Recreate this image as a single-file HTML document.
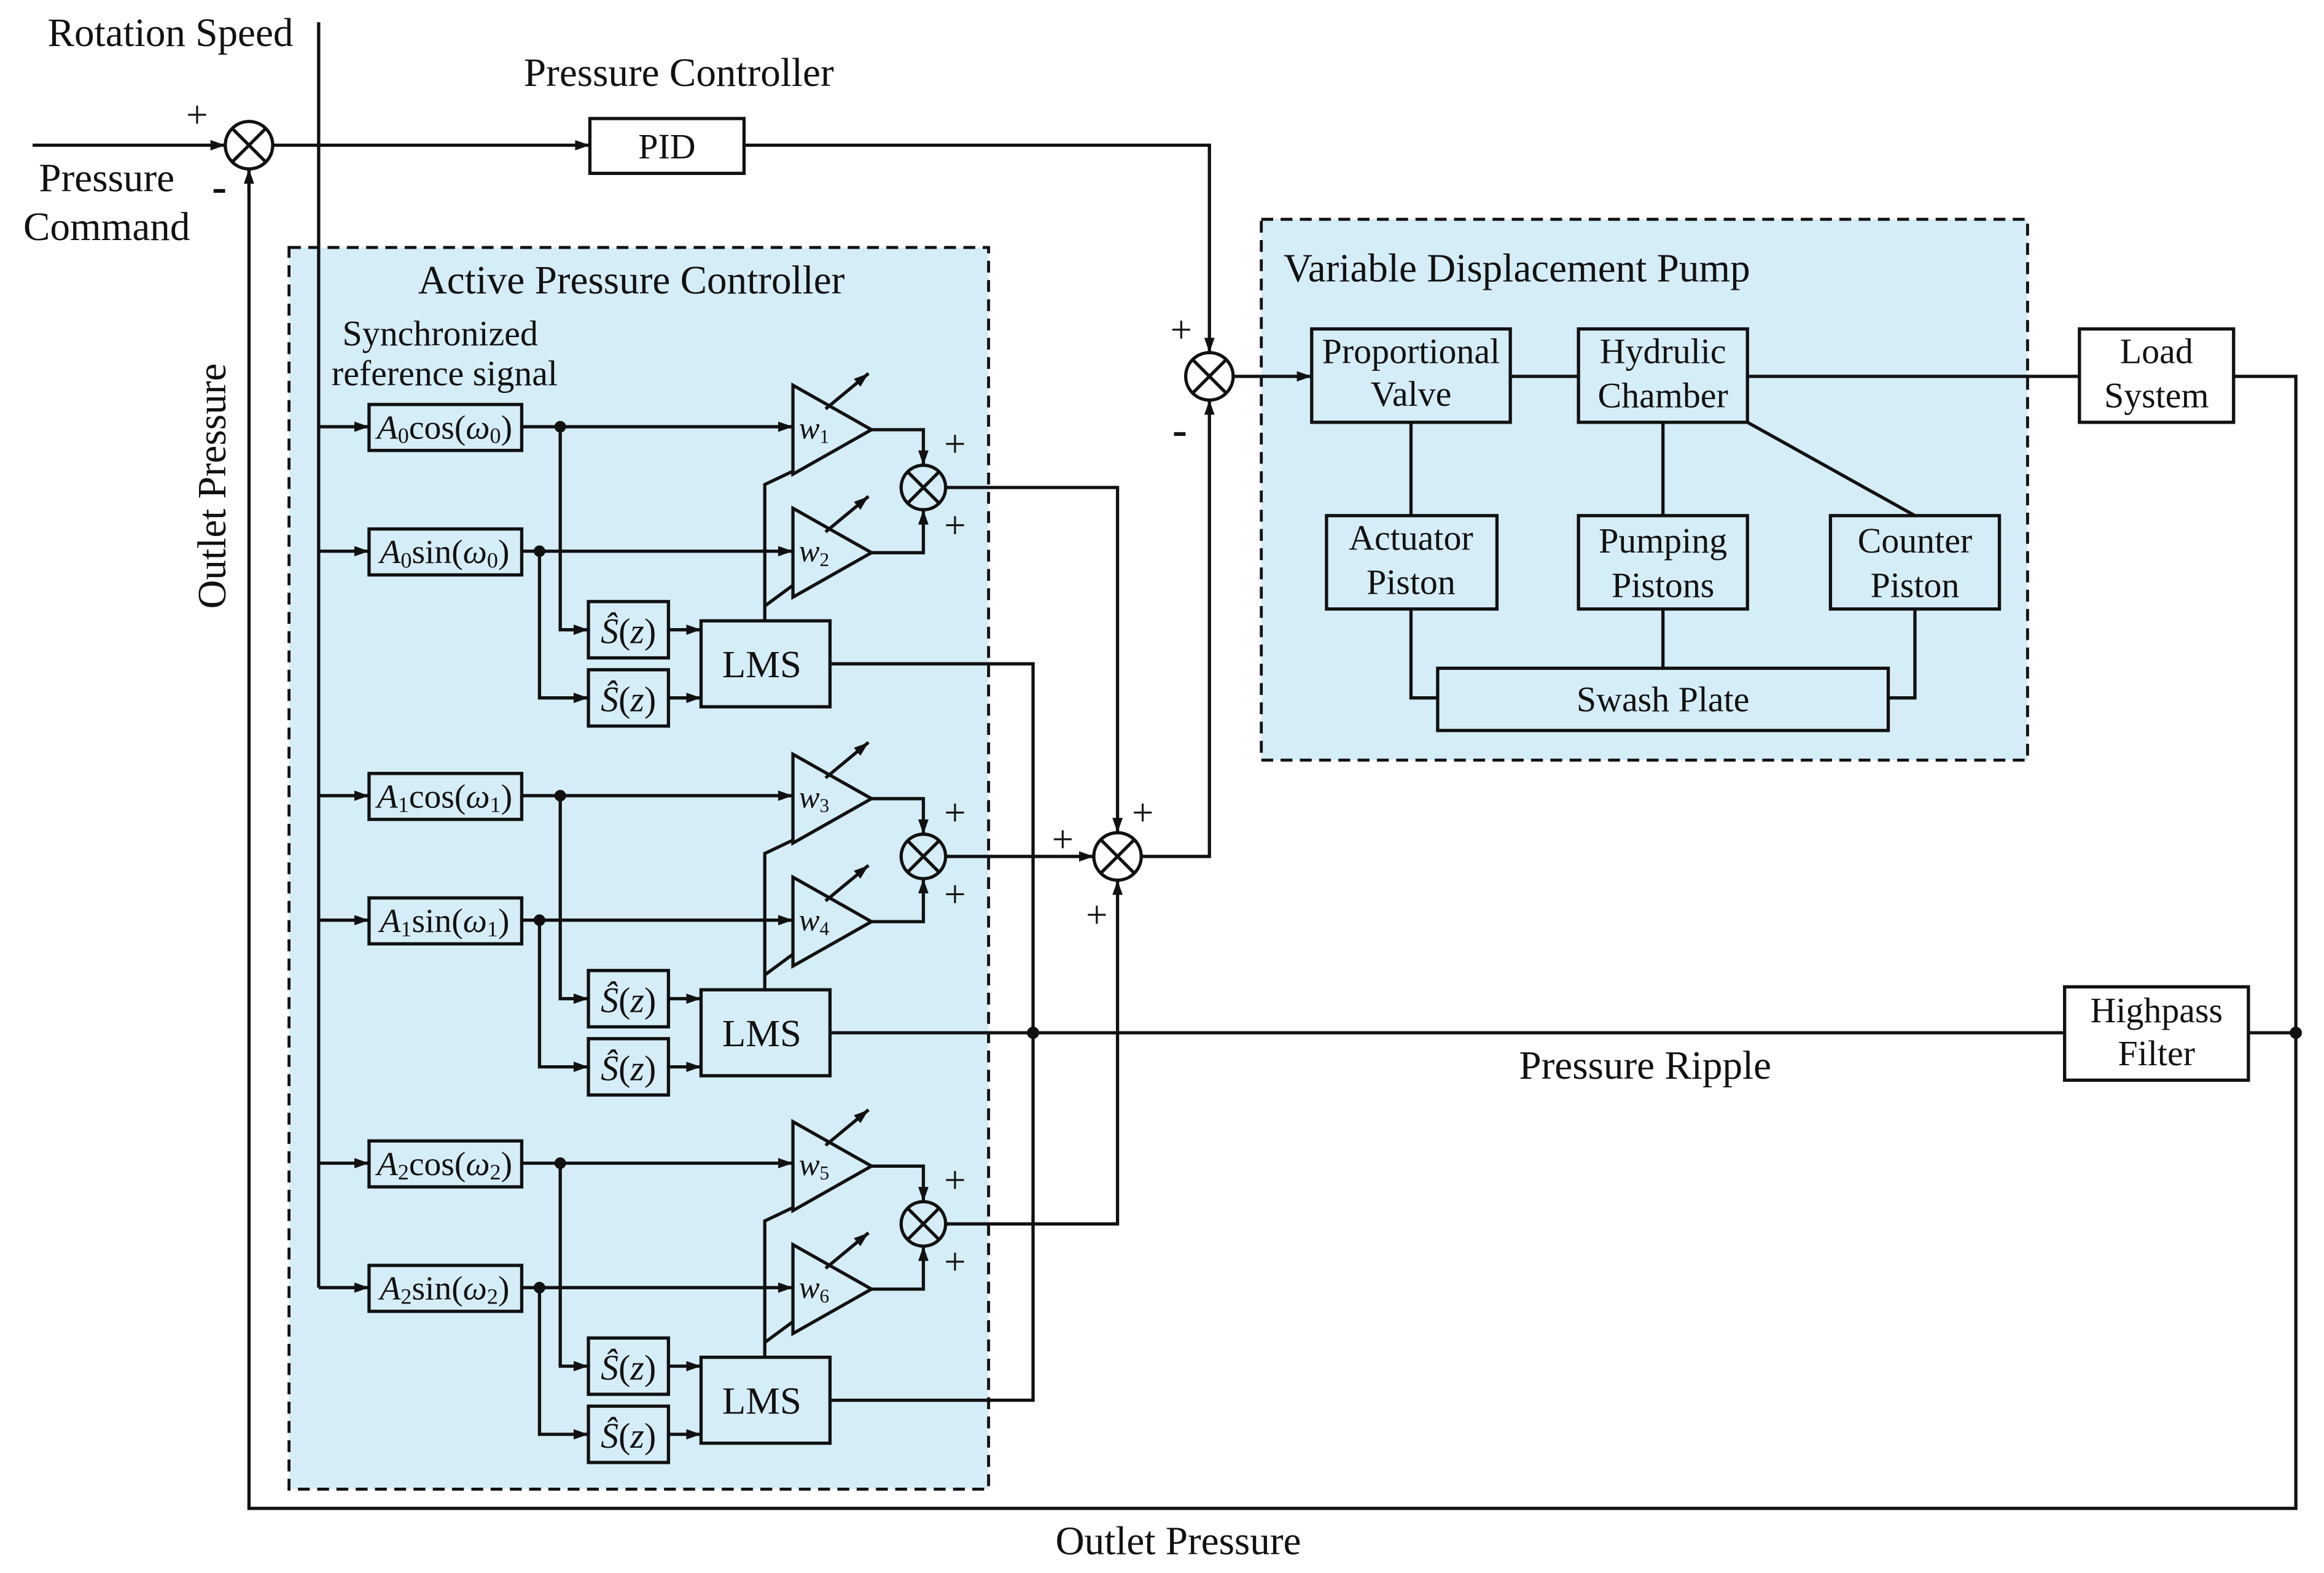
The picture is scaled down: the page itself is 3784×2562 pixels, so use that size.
<!DOCTYPE html>
<html><head><meta charset="utf-8"><style>
html,body{margin:0;padding:0;background:#fff;}
svg{display:block;}
text{font-family:"Liberation Serif",serif;fill:#111;}
</style></head><body>
<svg width="3784" height="2562" viewBox="0 0 1568 1061.6" preserveAspectRatio="none" xmlns="http://www.w3.org/2000/svg">
<defs>
<marker id="a" markerUnits="userSpaceOnUse" markerWidth="11" markerHeight="8" refX="10" refY="4" orient="auto"><path d="M0,0.5 L10,4 L0,7.5 z" fill="#111"/></marker>
<g id="grp" fill="none" stroke="#111" stroke-width="2.2">
<line x1="215" y1="288" x2="249" y2="288" marker-end="url(#a)"/>
<line x1="215" y1="372" x2="249" y2="372" marker-end="url(#a)"/>
<rect x="249" y="273" width="103" height="31"/>
<rect x="249" y="357" width="103" height="31"/>
<line x1="352" y1="288" x2="535" y2="288" marker-end="url(#a)"/>
<line x1="352" y1="372" x2="535" y2="372" marker-end="url(#a)"/>
<circle cx="378" cy="288" r="2.8" fill="#111"/>
<circle cx="364" cy="372" r="2.8" fill="#111"/>
<polyline points="378,288 378,425 397,425" marker-end="url(#a)"/>
<polyline points="364,372 364,471 397,471" marker-end="url(#a)"/>
<rect x="397" y="406" width="54" height="38"/>
<rect x="397" y="452" width="54" height="38"/>
<line x1="451" y1="425" x2="473" y2="425" marker-end="url(#a)"/>
<line x1="451" y1="471" x2="473" y2="471" marker-end="url(#a)"/>
<rect x="473" y="419" width="87" height="58"/>
<polyline points="535,395 516,409 516,419"/>
<polyline points="535,318 516,327 516,409"/>
<polygon points="535,260 535,320 588,290"/>
<polygon points="535,343 535,403 588,373"/>
<line x1="557" y1="276" x2="586" y2="252" marker-end="url(#a)"/>
<line x1="557" y1="359" x2="586" y2="335" marker-end="url(#a)"/>
<polyline points="588,290 623,290 623,314" marker-end="url(#a)"/>
<polyline points="588,373 623,373 623,344" marker-end="url(#a)"/>
<circle cx="623" cy="329" r="15"/>
<line x1="612.4" y1="318.4" x2="633.6" y2="339.6"/>
<line x1="633.6" y1="318.4" x2="612.4" y2="339.6"/>
</g>
<g id="gtx">
<text x="637" y="308" font-size="26">+</text>
<text x="637" y="363" font-size="26">+</text>
<text x="424" y="434" text-anchor="middle" font-style="italic" font-size="24">Ŝ<tspan font-style="normal">(</tspan>z<tspan font-style="normal">)</tspan></text>
<text x="424" y="480" text-anchor="middle" font-style="italic" font-size="24">Ŝ<tspan font-style="normal">(</tspan>z<tspan font-style="normal">)</tspan></text>
<text x="514" y="457" text-anchor="middle" font-size="26">LMS</text>
</g>
</defs>

<rect x="195" y="167" width="472" height="838" fill="#d5edf7" stroke="#111" stroke-width="2" stroke-dasharray="8,5"/>
<rect x="851" y="148" width="517" height="365" fill="#d5edf7" stroke="#111" stroke-width="2" stroke-dasharray="8,5"/>

<g fill="none" stroke="#111" stroke-width="2.2">
<line x1="215" y1="15" x2="215" y2="869"/>
<line x1="22" y1="98" x2="152" y2="98" marker-end="url(#a)"/>
<circle cx="168" cy="98" r="16"/>
<line x1="156.7" y1="86.7" x2="179.3" y2="109.3"/>
<line x1="179.3" y1="86.7" x2="156.7" y2="109.3"/>
<line x1="184" y1="98" x2="398" y2="98" marker-end="url(#a)"/>
<rect x="398" y="80" width="104" height="37"/>
<polyline points="502,98 816,98 816,238" marker-end="url(#a)"/>
<circle cx="816" cy="254" r="16"/>
<line x1="804.7" y1="242.7" x2="827.3" y2="265.3"/>
<line x1="827.3" y1="242.7" x2="804.7" y2="265.3"/>
<line x1="832" y1="254" x2="885" y2="254" marker-end="url(#a)"/>
<polyline points="1507,254 1549,254 1549,1018 168,1018 168,114" />
<line x1="168" y1="130" x2="168" y2="114" marker-end="url(#a)"/>
<circle cx="1549" cy="697" r="3" fill="#111"/>
<line x1="1549" y1="697" x2="1517" y2="697"/>
<rect x="1393" y="666" width="124" height="63"/>
<line x1="1393" y1="697" x2="560" y2="697"/>
<circle cx="697" cy="697" r="3" fill="#111"/>
<polyline points="560,448 697,448 697,945 560,945"/>
<rect x="885" y="222" width="134" height="63"/>
<rect x="1065" y="222" width="114" height="63"/>
<rect x="1403" y="222" width="104" height="63"/>
<rect x="895" y="348" width="115" height="63"/>
<rect x="1065" y="348" width="114" height="63"/>
<rect x="1235" y="348" width="114" height="63"/>
<rect x="970" y="451" width="304" height="42"/>
<line x1="1019" y1="254" x2="1065" y2="254"/>
<line x1="1179" y1="254" x2="1403" y2="254"/>
<line x1="952" y1="285" x2="952" y2="348"/>
<line x1="1122" y1="285" x2="1122" y2="348"/>
<line x1="1179" y1="285" x2="1292" y2="348"/>
<polyline points="952,411 952,471 970,471"/>
<line x1="1122" y1="411" x2="1122" y2="451"/>
<polyline points="1292,411 1292,471 1274,471"/>
<polyline points="638,329 754,329 754,562" marker-end="url(#a)"/>
<line x1="638" y1="578" x2="738" y2="578" marker-end="url(#a)"/>
<polyline points="638,826 754,826 754,594" marker-end="url(#a)"/>
<circle cx="754" cy="578" r="16"/>
<line x1="742.7" y1="566.7" x2="765.3" y2="589.3"/>
<line x1="765.3" y1="566.7" x2="742.7" y2="589.3"/>
<polyline points="770,578 816,578 816,270" marker-end="url(#a)"/>
</g>

<use href="#grp"/>
<use href="#grp" transform="translate(0,249)"/>
<use href="#grp" transform="translate(0,497)"/>
<use href="#gtx"/>
<use href="#gtx" transform="translate(0,249)"/>
<use href="#gtx" transform="translate(0,497)"/>

<g font-size="23">
<text x="300" y="296" text-anchor="middle"><tspan font-style="italic">A</tspan><tspan font-size="15" dy="3">0</tspan><tspan dy="-3">cos(</tspan><tspan font-style="italic">ω</tspan><tspan font-size="15" dy="3">0</tspan><tspan dy="-3">)</tspan></text>
<text x="300" y="380" text-anchor="middle"><tspan font-style="italic">A</tspan><tspan font-size="15" dy="3">0</tspan><tspan dy="-3">sin(</tspan><tspan font-style="italic">ω</tspan><tspan font-size="15" dy="3">0</tspan><tspan dy="-3">)</tspan></text>
<text x="300" y="545" text-anchor="middle"><tspan font-style="italic">A</tspan><tspan font-size="15" dy="3">1</tspan><tspan dy="-3">cos(</tspan><tspan font-style="italic">ω</tspan><tspan font-size="15" dy="3">1</tspan><tspan dy="-3">)</tspan></text>
<text x="300" y="629" text-anchor="middle"><tspan font-style="italic">A</tspan><tspan font-size="15" dy="3">1</tspan><tspan dy="-3">sin(</tspan><tspan font-style="italic">ω</tspan><tspan font-size="15" dy="3">1</tspan><tspan dy="-3">)</tspan></text>
<text x="300" y="793" text-anchor="middle"><tspan font-style="italic">A</tspan><tspan font-size="15" dy="3">2</tspan><tspan dy="-3">cos(</tspan><tspan font-style="italic">ω</tspan><tspan font-size="15" dy="3">2</tspan><tspan dy="-3">)</tspan></text>
<text x="300" y="877" text-anchor="middle"><tspan font-style="italic">A</tspan><tspan font-size="15" dy="3">2</tspan><tspan dy="-3">sin(</tspan><tspan font-style="italic">ω</tspan><tspan font-size="15" dy="3">2</tspan><tspan dy="-3">)</tspan></text>
<g font-style="italic" font-size="21">
<text x="539" y="296">w<tspan font-size="13" font-style="normal" dy="3">1</tspan></text>
<text x="539" y="379">w<tspan font-size="13" font-style="normal" dy="3">2</tspan></text>
<text x="539" y="545">w<tspan font-size="13" font-style="normal" dy="3">3</tspan></text>
<text x="539" y="628">w<tspan font-size="13" font-style="normal" dy="3">4</tspan></text>
<text x="539" y="793">w<tspan font-size="13" font-style="normal" dy="3">5</tspan></text>
<text x="539" y="876">w<tspan font-size="13" font-style="normal" dy="3">6</tspan></text>
</g>
</g>

<g font-size="27">
<text x="115" y="31" text-anchor="middle">Rotation Speed</text>
<text x="458" y="58" text-anchor="middle">Pressure Controller</text>
<text x="450" y="107" text-anchor="middle" font-size="24">PID</text>
<text x="72" y="129" text-anchor="middle">Pressure</text>
<text x="72" y="162" text-anchor="middle">Command</text>
<text x="133" y="86" text-anchor="middle" font-size="26">+</text>
<text x="148" y="136" text-anchor="middle" font-size="30" font-weight="bold">-</text>
<text x="797" y="231" text-anchor="middle" font-size="26">+</text>
<text x="796" y="300" text-anchor="middle" font-size="30" font-weight="bold">-</text>
<text x="717" y="575" text-anchor="middle" font-size="26">+</text>
<text x="771" y="557" text-anchor="middle" font-size="26">+</text>
<text x="740" y="626" text-anchor="middle" font-size="26">+</text>
<text x="426" y="198" text-anchor="middle" font-size="27">Active Pressure Controller</text>
<text x="297" y="233" text-anchor="middle" font-size="24">Synchronized</text>
<text x="300" y="260" text-anchor="middle" font-size="24">reference signal</text>
<text x="866" y="190" font-size="27">Variable Displacement Pump</text>
<g font-size="24">
<text x="952" y="245" text-anchor="middle">Proportional</text>
<text x="952" y="274" text-anchor="middle">Valve</text>
<text x="1122" y="245" text-anchor="middle">Hydrulic</text>
<text x="1122" y="275" text-anchor="middle">Chamber</text>
<text x="1455" y="245" text-anchor="middle">Load</text>
<text x="1455" y="275" text-anchor="middle">System</text>
<text x="952" y="371" text-anchor="middle">Actuator</text>
<text x="952" y="401" text-anchor="middle">Piston</text>
<text x="1122" y="373" text-anchor="middle">Pumping</text>
<text x="1122" y="403" text-anchor="middle">Pistons</text>
<text x="1292" y="373" text-anchor="middle">Counter</text>
<text x="1292" y="403" text-anchor="middle">Piston</text>
<text x="1122" y="480" text-anchor="middle">Swash Plate</text>
<text x="1455" y="690" text-anchor="middle">Highpass</text>
<text x="1455" y="719" text-anchor="middle">Filter</text>
</g>
<text x="1110" y="728" text-anchor="middle">Pressure Ripple</text>
<text x="795" y="1049" text-anchor="middle">Outlet Pressure</text>
<text transform="translate(152,328) rotate(-90)" text-anchor="middle">Outlet Pressure</text>
</g>
</svg>
</body></html>
